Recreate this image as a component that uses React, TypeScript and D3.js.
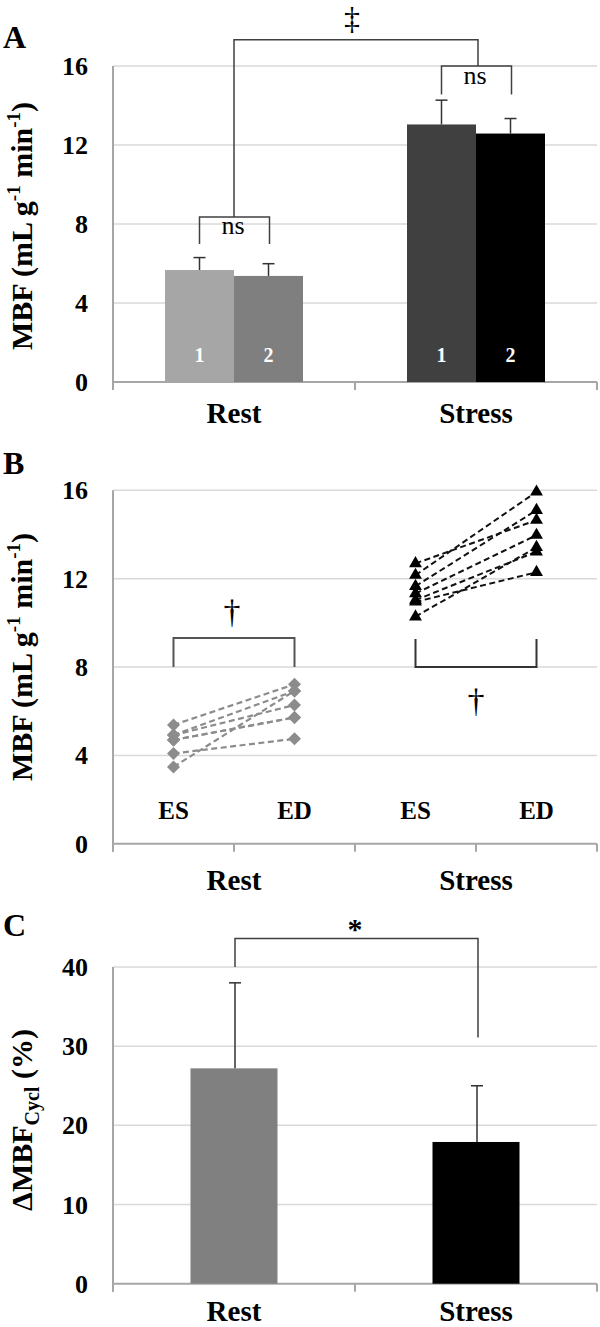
import React from 'react';
import * as d3 from 'd3';

// ---------- DATA ----------
const categories = ['Rest', 'Stress'];
const seriesA = ['1', '2'];
const restMBF = [5.67, 5.37];
const restSD = [0.63, 0.62];
const stressMBF = [13.04, 12.58];
const stressSD = [1.23, 0.76];
const ticksMBF = [0, 4, 8, 12, 16];

const phases = ['ES', 'ED'];
const restES = [5.38, 4.92, 4.92, 4.7, 4.7, 4.09, 3.48];
const restED = [7.22, 6.92, 6.28, 5.72, 5.72, 4.75, 6.92];
const stressES = [12.69, 12.16, 11.66, 11.33, 11.03, 10.95, 10.28];
const stressED = [14.65, 15.93, 15.1, 13.97, 13.22, 12.29, 13.42];

const cyclMean = [27.2, 17.9];
const cyclSD = [10.8, 7.1];
const ticksCycl = [0, 10, 20, 30, 40];

// ---------- STYLE ----------
const FONT = '"Liberation Serif", "Times New Roman", serif';
const L = 113;
const R = 597;
const GRID = '#d9d9d9';
const AXIS = '#a6a6a6';
const BR = '#404040';
const barColorsA = [['#a6a6a6', '#7f7f7f'], ['#404040', '#000000']];

function Axes({ y, ticks, tickXs }: { y: d3.ScaleLinear<number, number>; ticks: number[]; tickXs: number[] }) {
  const y0 = y(0);
  const yTop = y(ticks[ticks.length - 1]);
  return (
    <g>
      {ticks.filter((t) => t !== 0).map((t) => (
        <line key={'g' + t} x1={L} x2={R} y1={y(t)} y2={y(t)} stroke={GRID} strokeWidth={1.5} />
      ))}
      <line x1={L} x2={L} y1={yTop} y2={y0 + 8} stroke={AXIS} strokeWidth={2} />
      <line x1={L} x2={R} y1={y0} y2={y0} stroke={AXIS} strokeWidth={2} />
      {tickXs.map((x, i) => (
        <line key={'t' + i} x1={x} x2={x} y1={y0} y2={y0 + 8} stroke={AXIS} strokeWidth={2} />
      ))}
      {ticks.map((t) => (
        <text key={'l' + t} x={88} y={y(t) + 9} textAnchor="end" fontFamily={FONT} fontWeight="bold" fontSize={26}>
          {t}
        </text>
      ))}
    </g>
  );
}

function Err({ x, y1, y2 }: { x: number; y1: number; y2: number }) {
  return (
    <g stroke="#333" strokeWidth={1.5}>
      <line x1={x} x2={x} y1={y1} y2={y2} />
      <line x1={x - 6} x2={x + 6} y1={y2} y2={y2} />
    </g>
  );
}

export default function App() {
  // Panel A
  const yA = d3.scaleLinear().domain([0, 16]).range([382, 66]);
  const xA = d3.scaleBand<string>().domain(categories).range([L, R]);
  const innerA = d3.scaleBand<string>().domain(seriesA).range([-69, 69]);
  const valsA = [restMBF, stressMBF];
  const sdA = [restSD, stressSD];
  const cA = (c: string) => (xA(c) as number) + xA.bandwidth() / 2;
  const barCenterA = (c: string, s: string) => cA(c) + (innerA(s) as number) + innerA.bandwidth() / 2;

  // Panel B
  const bCats = ['Rest-ES', 'Rest-ED', 'Stress-ES', 'Stress-ED'];
  const yB = d3.scaleLinear().domain([0, 16]).range([843.8, 490.3]);
  const xB = d3.scaleBand<string>().domain(bCats).range([L, R]);
  const pB = (k: string) => (xB(k) as number) + xB.bandwidth() / 2;
  const bTickXs = [...bCats.map((k) => xB(k) as number), R];

  // Panel C
  const yC = d3.scaleLinear().domain([0, 40]).range([1283.7, 967]);
  const xC = d3.scaleBand<string>().domain(categories).range([L, R]);
  const cC = (c: string) => (xC(c) as number) + xC.bandwidth() / 2;
  const barWC = 87;

  const tickXsA = [L, (xA('Stress') as number), R];

  const diamond = d3.symbol().type(d3.symbolSquare).size(85)() as string;
  const triangle = d3.symbol().type(d3.symbolTriangle).size(72)() as string;

  return (
    <div style={{ position: 'absolute', left: 0, top: 0 }}>
      <svg width={600} height={1327} style={{ display: 'block', background: '#fff' }}>
        {/* ============ PANEL A ============ */}
        <text x={3} y={48} fontFamily={FONT} fontWeight="bold" fontSize={32}>A</text>
        <Axes y={yA} ticks={ticksMBF} tickXs={tickXsA} />
        {categories.map((c, ci) =>
          seriesA.map((s, si) => {
            const x = cA(c) + (innerA(s) as number);
            const v = valsA[ci][si];
            return (
              <g key={c + s}>
                <rect x={x} y={yA(v)} width={innerA.bandwidth()} height={yA(0) - yA(v)} fill={barColorsA[ci][si]} />
                <text x={x + innerA.bandwidth() / 2} y={362} textAnchor="middle" fill="#fff" fontFamily={FONT} fontWeight="bold" fontSize={20}>
                  {s}
                </text>
                <Err x={x + innerA.bandwidth() / 2} y1={yA(v)} y2={yA(v + sdA[ci][si])} />
              </g>
            );
          })
        )}
        {/* ns brackets */}
        <path
          d={`M${barCenterA('Rest', '1')},${yA(6.99)}V${yA(8.35)}H${barCenterA('Rest', '2') + 1}V${yA(6.99)}`}
          fill="none" stroke={BR} strokeWidth={1.5}
        />
        <text x={cA('Rest') - 1} y={234} textAnchor="middle" fontFamily={FONT} fontSize={26}>ns</text>
        <path
          d={`M${barCenterA('Stress', '1')},${yA(14.56)}V${yA(16)}H${barCenterA('Stress', '2') + 1}V${yA(14.56)}`}
          fill="none" stroke={BR} strokeWidth={1.5}
        />
        <text x={cA('Stress') - 1} y={84} textAnchor="middle" fontFamily={FONT} fontSize={26}>ns</text>
        <path
          d={`M${cA('Rest')},${yA(8.35)}V${yA(17.33)}H${cA('Stress') + 2}V${yA(16)}`}
          fill="none" stroke={BR} strokeWidth={1.5}
        />
        <text x={352} y={29} textAnchor="middle" fontFamily={FONT} fontSize={32}>‡</text>
        {categories.map((c) => (
          <text key={'xa' + c} x={cA(c)} y={423} textAnchor="middle" fontFamily={FONT} fontWeight="bold" fontSize={29}>
            {c}
          </text>
        ))}
        <text transform="translate(32,226) rotate(-90)" textAnchor="middle" fontFamily={FONT} fontWeight="bold" fontSize={30}>
          MBF (mL g<tspan dy={-12} fontSize={19}>-1</tspan><tspan dy={12}> min</tspan><tspan dy={-12} fontSize={19}>-1</tspan><tspan dy={12}>)</tspan>
        </text>

        {/* ============ PANEL B ============ */}
        <text x={3} y={474} fontFamily={FONT} fontWeight="bold" fontSize={32}>B</text>
        <Axes y={yB} ticks={ticksMBF} tickXs={bTickXs} />
        {/* brackets */}
        <path
          d={`M${pB('Rest-ES')},${yB(8)}V${yB(9.31)}H${pB('Rest-ED')}V${yB(8)}`}
          fill="none" stroke="#555" strokeWidth={2}
        />
        <text x={232} y={622.5} textAnchor="middle" fontFamily={FONT} fontSize={34}>†</text>
        <path
          d={`M${pB('Stress-ES')},${yB(9.27)}V${yB(8)}H${pB('Stress-ED')}V${yB(9.27)}`}
          fill="none" stroke="#333" strokeWidth={2}
        />
        <text x={476} y={711.5} textAnchor="middle" fontFamily={FONT} fontSize={34}>†</text>
        {/* rest lines */}
        {restES.map((v, i) => (
          <line key={'rl' + i} x1={pB('Rest-ES')} y1={yB(v)} x2={pB('Rest-ED')} y2={yB(restED[i])}
            stroke="#8c8c8c" strokeWidth={2.2} strokeDasharray="6,3.5" />
        ))}
        {restES.map((v, i) => (
          <g key={'rm' + i}>
            <path d={diamond} transform={`translate(${pB('Rest-ES')},${yB(v)}) rotate(45)`} fill="#8c8c8c" />
            <path d={diamond} transform={`translate(${pB('Rest-ED')},${yB(restED[i])}) rotate(45)`} fill="#8c8c8c" />
          </g>
        ))}
        {stressES.map((v, i) => (
          <line key={'sl' + i} x1={pB('Stress-ES')} y1={yB(v)} x2={pB('Stress-ED')} y2={yB(stressED[i])}
            stroke="#111" strokeWidth={2} strokeDasharray="6,3.5" />
        ))}
        {stressES.map((v, i) => (
          <g key={'sm' + i}>
            <path d={triangle} transform={`translate(${pB('Stress-ES')},${yB(v)})`} fill="#000" />
            <path d={triangle} transform={`translate(${pB('Stress-ED')},${yB(stressED[i])})`} fill="#000" />
          </g>
        ))}
        {bCats.map((k, i) => (
          <text key={'ph' + k} x={pB(k)} y={819} textAnchor="middle" fontFamily={FONT} fontWeight="bold" fontSize={25}>
            {phases[i % 2]}
          </text>
        ))}
        {categories.map((c, i) => (
          <text key={'xb' + c} x={(pB(bCats[i * 2]) + pB(bCats[i * 2 + 1])) / 2} y={890} textAnchor="middle" fontFamily={FONT} fontWeight="bold" fontSize={29}>
            {c}
          </text>
        ))}
        <text transform="translate(32,657) rotate(-90)" textAnchor="middle" fontFamily={FONT} fontWeight="bold" fontSize={30}>
          MBF (mL g<tspan dy={-12} fontSize={19}>-1</tspan><tspan dy={12}> min</tspan><tspan dy={-12} fontSize={19}>-1</tspan><tspan dy={12}>)</tspan>
        </text>

        {/* ============ PANEL C ============ */}
        <text x={3} y={936} fontFamily={FONT} fontWeight="bold" fontSize={32}>C</text>
        <Axes y={yC} ticks={ticksCycl} tickXs={[L, xC('Stress') as number, R]} />
        {categories.map((c, i) => (
          <g key={'cb' + c}>
            <rect x={cC(c) - barWC / 2} y={yC(cyclMean[i])} width={barWC} height={yC(0) - yC(cyclMean[i])}
              fill={i === 0 ? '#808080' : '#000'} />
            <Err x={cC(c) + 1} y1={yC(cyclMean[i])} y2={yC(cyclMean[i] + cyclSD[i])} />
          </g>
        ))}
        <path
          d={`M${cC('Rest') + 1},${yC(40)}V${yC(43.6)}H${cC('Stress') + 2}V${yC(31.1)}`}
          fill="none" stroke={BR} strokeWidth={1.5}
        />
        <text x={355} y={939} textAnchor="middle" fontFamily={FONT} fontWeight="bold" fontSize={30}>*</text>
        {categories.map((c) => (
          <text key={'xc' + c} x={cC(c)} y={1321} textAnchor="middle" fontFamily={FONT} fontWeight="bold" fontSize={29}>
            {c}
          </text>
        ))}
        <text transform="translate(32,1120) rotate(-90)" textAnchor="middle" fontFamily={FONT} fontWeight="bold" fontSize={30}>
          ΔMBF<tspan dy={7} fontSize={20}>Cycl</tspan><tspan dy={-7}> (%)</tspan>
        </text>
      </svg>
    </div>
  );
}
